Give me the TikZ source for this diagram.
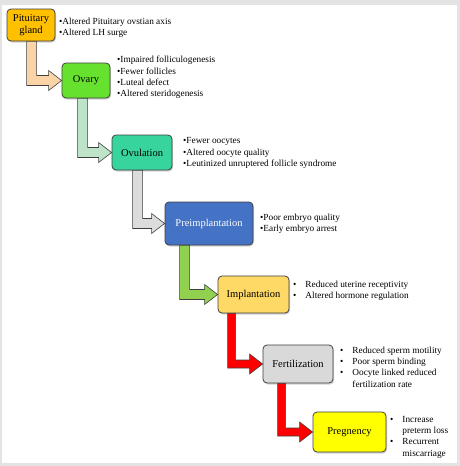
\documentclass[tikz,border=0pt]{standalone}
\usepackage{fontspec}
\setmainfont{Liberation Serif}
\usetikzlibrary{calc,shadows}
\definecolor{frame}{HTML}{E3E3E3}
\definecolor{edge}{HTML}{3F3F3F}
\definecolor{pitfill}{HTML}{FFC000}
\definecolor{ovaryfill}{HTML}{66E22E}
\definecolor{ovulfill}{HTML}{38D49E}
\definecolor{preimpfill}{HTML}{4472C4}
\definecolor{implantfill}{HTML}{FFD966}
\definecolor{fertfill}{HTML}{D9D9D9}
\definecolor{pregfill}{HTML}{FFFF00}
\definecolor{arrpeach}{HTML}{FAD4A6}
\definecolor{arrpale}{HTML}{BDE3C8}
\definecolor{arrgray}{HTML}{DCDCDC}
\definecolor{arrgreen}{HTML}{92D050}
\definecolor{arrred}{HTML}{FF0000}
\tikzset{
  stage/.style={draw=edge, line width=0.8pt, rounded corners=4pt, align=center,
    font=\fontsize{10.5}{12}\selectfont, text=black,
    drop shadow={opacity=.35, shadow xshift=1pt, shadow yshift=-1.5pt}},
  note/.style={anchor=west, align=left, inner sep=0pt, text=black,
    font=\fontsize{9.3}{11.3}\selectfont},
  elbowarrow/.style={draw=edge, line width=0.6pt, line join=miter},
}
% elbow arrow: fill, from node, to node, shaft offset from the lower left corner, shaft half width
\newcommand{\elbow}[5]{%
  \coordinate (s) at ($(#2.south west)+(#4,0)$);
  \coordinate (t) at (#3.west);
  \draw[elbowarrow, fill=#1] ($(s)+(-#5,0)$) -- ($(s|-t)+(-#5,#5)$) -- ($(t)+(-13,#5)$)
    -- ($(t)+(-13,10)$) -- (t) -- ($(t)+(-13,-10)$) -- ($(t)+(-13,-#5)$)
    -- ($(s|-t)+(#5,-#5)$) -- ($(s)+(#5,0)$) -- cycle;
}

\begin{document}
\begin{tikzpicture}[x=1pt,y=-1pt]
  % frame
  \fill[frame] (0,0) rectangle (460,466);
  \fill[white] (2,5) rectangle (457,463);

  % stages
  \node[stage, fill=pitfill, minimum width=48pt, minimum height=32pt] (pit) at (31,25) {Pituitary\\gland};
  \node[stage, fill=ovaryfill, minimum width=48pt, minimum height=35pt] (ovary) at (86,80.5) {Ovary};
  \node[stage, fill=ovulfill, minimum width=60pt, minimum height=35pt] (ovul) at (142,152.5) {Ovulation};
  \node[stage, fill=preimpfill, text=white, minimum width=88pt, minimum height=43pt] (preimp) at (209,223.5) {Preimplantation};
  \node[stage, fill=implantfill, minimum width=71pt, minimum height=37pt] (implant) at (253.5,294.5) {Implantation};
  \node[stage, fill=fertfill, minimum width=70pt, minimum height=38pt] (fert) at (298,364) {Fertilization};
  \node[stage, fill=pregfill, minimum width=73pt, minimum height=40pt] (preg) at (349.5,432) {Pregnency};

  % arrows
  \elbow{arrpeach}{pit}{ovary}{25}{5}
  \elbow{arrpale}{ovary}{ovul}{21}{5}
  \elbow{arrgray}{ovul}{preimp}{26}{5}
  \elbow{arrgreen}{preimp}{implant}{20}{5}
  \elbow{arrred}{implant}{fert}{14}{4}
  \elbow{arrred}{fert}{preg}{19}{4}

  % notes
  \node[note] (pitnote) at (59,27.5) {\textbullet Altered Pituitary ovstian axis\\\textbullet Altered LH surge};
  \node[note] (ovarynote) at (117,77.5) {\textbullet Impaired folliculogenesis\\\textbullet Fewer follicles\\
    \textbullet Luteal defect\\\textbullet Altered steridogenesis};
  \node[note] (ovulnote) at (183,153) {\textbullet Fewer oocytes\\\textbullet Altered oocyte quality\\
    \textbullet Leutinized unruptered follicle syndrome};
  \node[note] (preimpnote) at (260,223.5) {\textbullet Poor embryo quality\\\textbullet Early embryo arrest};
  \node[note] (implantnote) at (293,290.5) {\begin{tabular}{@{}l@{\hspace{9pt}}l@{}}
    \textbullet & Reduced uterine receptivity\\ \textbullet & Altered hormone regulation\end{tabular}};
  \node[note] (fertnote) at (340,368) {\begin{tabular}{@{}l@{\hspace{9pt}}l@{}}
    \textbullet & Reduced sperm motility\\ \textbullet & Poor sperm binding\\
    \textbullet & Oocyte linked reduced\\ & fertilization rate\end{tabular}};
  \node[note] (pregnote) at (390,437) {\begin{tabular}{@{}l@{\hspace{9pt}}l@{}}
    \textbullet & Increase\\ & preterm loss\\ \textbullet & Recurrent\\ & miscarriage\end{tabular}};
\end{tikzpicture}
\end{document}
